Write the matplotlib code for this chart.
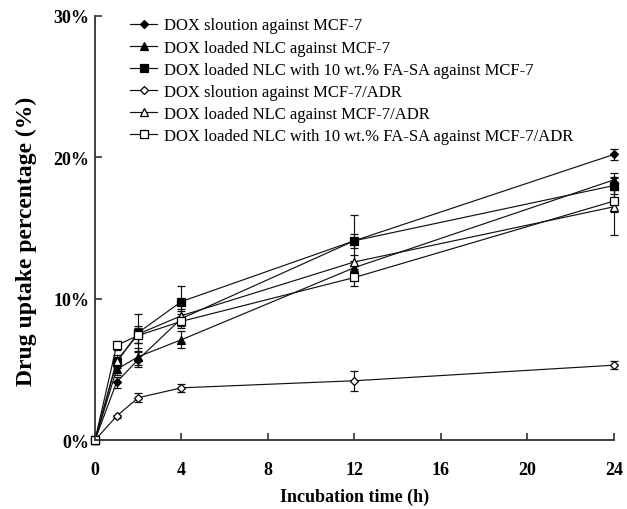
import matplotlib
matplotlib.use("Agg")
import matplotlib.pyplot as plt

plt.rcParams["font.family"] = ["Liberation Serif", "DejaVu Serif"]

hours = [0, 1, 2, 4, 12, 24]

series_labels = [
    "DOX sloution against MCF-7",
    "DOX loaded NLC against MCF-7",
    "DOX loaded NLC with 10 wt.% FA-SA against MCF-7",
    "DOX sloution against MCF-7/ADR",
    "DOX loaded NLC against MCF-7/ADR",
    "DOX loaded NLC with 10 wt.% FA-SA against MCF-7/ADR",
]

sol_mcf7 = [0, 4.1, 5.7, 8.6, 14.1, 20.2]
sol_mcf7_err = [0, 0.4, 0.5, 0.5, 0.5, 0.4]
nlc_mcf7 = [0, 5.0, 5.9, 7.1, 12.2, 18.4]
nlc_mcf7_err = [0, 0.4, 0.6, 0.6, 0.5, 0.5]
fa_mcf7 = [0, 5.5, 7.6, 9.8, 14.1, 18.0]
fa_mcf7_err = [0, 0.4, 1.3, 1.1, 1.8, 0.6]
sol_adr = [0, 1.7, 3.0, 3.7, 4.2, 5.3]
sol_adr_err = [0, 0.1, 0.3, 0.3, 0.7, 0.3]
nlc_adr = [0, 5.6, 7.5, 8.8, 12.6, 16.5]
nlc_adr_err = [0, 0.4, 0.6, 0.5, 0.5, 2.0]
fa_adr = [0, 6.7, 7.4, 8.4, 11.5, 16.9]
fa_adr_err = [0, 0.3, 0.5, 0.5, 0.6, 0.8]

values = [sol_mcf7, nlc_mcf7, fa_mcf7, sol_adr, nlc_adr, fa_adr]
errors = [sol_mcf7_err, nlc_mcf7_err, fa_mcf7_err, sol_adr_err, nlc_adr_err, fa_adr_err]
markers = ["D", "^", "s", "D", "^", "s"]
fills = ["black", "black", "black", "white", "white", "white"]
sizes = [4, 5.3, 5.5, 4.5, 5.3, 5.5]

fig = plt.figure(figsize=(6.27, 5.10), dpi=100)
ax = fig.add_axes([0.1515, 0.135, 0.8275, 0.832])

for y, err, mk, fc, ms, label in zip(values, errors, markers, fills, sizes, series_labels):
    ax.errorbar(
        hours, y, yerr=err, color="#111111", linewidth=0.85, elinewidth=0.85,
        capsize=3, capthick=0.85, marker=mk, markersize=ms,
        markerfacecolor=fc, markeredgecolor="black", markeredgewidth=0.9,
        label=label, clip_on=False,
    )

ax.set_xlim(0, 24)
ax.set_ylim(0, 30)
ax.set_xticks([0, 4, 8, 12, 16, 20, 24])
ax.set_yticks([0, 10, 20, 30])
ax.set_yticklabels(["0%", "10%", "20%", "30%"])
for side in ["top", "right"]:
    ax.spines[side].set_visible(False)
for side in ["left", "bottom"]:
    ax.spines[side].set_linewidth(1.3)
    ax.spines[side].set_color("#333333")
ax.tick_params(direction="in", length=5, width=1.2, labelsize=13, color="#333333")
ax.tick_params(axis="x", pad=15)
ax.tick_params(axis="y", pad=4)
for lbl in ax.get_xticklabels() + ax.get_yticklabels():
    lbl.set_fontweight("bold")

ax.set_xlabel("Incubation time (h)", fontsize=13, fontweight="bold", labelpad=7)
ax.set_ylabel("Drug uptake percentage (%)", fontsize=17, fontweight="bold")
ax.yaxis.set_label_coords(-0.112, 0.47)

handles, labels = ax.get_legend_handles_labels()
handles = [h[0] for h in handles]
ax.legend(
    handles, labels, loc="upper left", bbox_to_anchor=(0.055, 1.012), frameon=False,
    fontsize=12, handlelength=1.6, handletextpad=0.45, labelspacing=0.37,
    borderaxespad=0.0,
)

fig.savefig("out.png", dpi=100)
